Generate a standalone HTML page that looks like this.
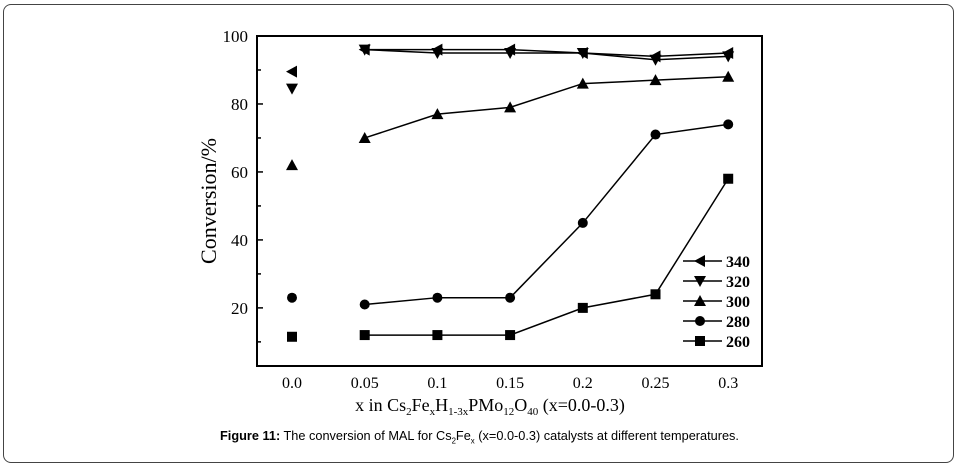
<!DOCTYPE html>
<html><head><meta charset="utf-8"><style>
html,body{margin:0;padding:0;background:#fff;width:959px;height:470px;overflow:hidden}
#frame{position:absolute;left:3px;top:4px;width:951px;height:459px;border:1.5px solid #444;border-radius:8px;box-sizing:border-box}
svg{position:absolute;left:0;top:0}
.cap{position:absolute;left:0;width:959px;top:428px;text-align:center;font-family:"Liberation Sans",sans-serif;font-size:13px;transform:scaleX(0.98)}
</style></head><body>
<div id="frame"></div>
<svg id="chart" width="959" height="470"></svg>
<div class="cap"><b>Figure 11:</b> The conversion of MAL for Cs<sub style="font-size:8px">2</sub>Fe<sub style="font-size:8px">x</sub> (x=0.0-0.3) catalysts at different temperatures.</div>
<script>
const categories = ["0.0","0.05","0.1","0.15","0.2","0.25","0.3"];
const s340 = [89.5,96,96,96,95,94,95];
const s320 = [84.5,96,95,95,95,93,94];
const s300 = [62,70,77,79,86,87,88];
const s280 = [23,21,23,23,45,71,74];
const s260 = [11.5,12,12,12,20,24,58];
const seriesNames = ["340","320","300","280","260"];
const yTicks = [20,40,60,80,100];
const yMinor = [10,30,50,70,90];

const NS="http://www.w3.org/2000/svg";
const svg=document.getElementById('chart');
const L=257,R=762,T=36,B=366;
const yMin=2.9,yMax=100;
function y(v){return B-(v-yMin)/(yMax-yMin)*(B-T);}
function x(i){return 292+i*72.7;}
function mk(tag,attrs,parent){const e=document.createElementNS(NS,tag);for(const k in attrs)e.setAttribute(k,attrs[k]);(parent||svg).appendChild(e);return e;}

const box=mk('rect',{x:L,y:T,width:R-L,height:B-T,fill:'none',stroke:'#000','stroke-width':2});



yTicks.forEach(v=>{
  const t=mk('line',{x1:L,x2:L+6,y1:y(v),y2:y(v),stroke:'#000','stroke-width':1.5});
  
  
  const lb=mk('text',{x:L-9,y:y(v)+6,'text-anchor':'end','font-family':'Liberation Serif, serif','font-size':17,fill:'#000'});
  lb.textContent=v;
  
  
});
yMinor.forEach(v=>{
  const t=mk('line',{x1:L,x2:L+4,y1:y(v),y2:y(v),stroke:'#000','stroke-width':1.5});
  
  
});
categories.forEach((c,i)=>{
  const lb=mk('text',{x:x(i),y:388,'text-anchor':'middle','font-family':'Liberation Serif, serif','font-size':16,fill:'#000'});
  lb.textContent=c;
  
  
});
const yt=mk('text',{x:0,y:0,transform:'translate(216,201) rotate(-90)','text-anchor':'middle','font-family':'Liberation Serif, serif','font-size':22,fill:'#000'});
yt.textContent='Conversion/%';


const xt=mk('text',{x:490,y:411,'text-anchor':'middle','font-family':'Liberation Serif, serif','font-size':18,fill:'#000'});
xt.innerHTML='x in Cs<tspan font-size="11" dy="4">2</tspan><tspan dy="-4">Fe</tspan><tspan font-size="11" dy="4">x</tspan><tspan dy="-4">H</tspan><tspan font-size="11" dy="4">1-3x</tspan><tspan dy="-4">PMo</tspan><tspan font-size="11" dy="4">12</tspan><tspan dy="-4">O</tspan><tspan font-size="11" dy="4">40</tspan><tspan dy="-4"> (x=0.0-0.3)</tspan>';



function marker(type,cx,cy){
  let e;
  if(type==='left') e=mk('polygon',{points:`${cx-6},${cy} ${cx+5},${cy-6} ${cx+5},${cy+6}`,fill:'#000'});
  else if(type==='down') e=mk('polygon',{points:`${cx-6},${cy-5} ${cx+6},${cy-5} ${cx},${cy+6}`,fill:'#000'});
  else if(type==='up') e=mk('polygon',{points:`${cx-6},${cy+5} ${cx+6},${cy+5} ${cx},${cy-6}`,fill:'#000'});
  else if(type==='circle') e=mk('circle',{cx:cx,cy:cy,r:5,fill:'#000'});
  else e=mk('rect',{x:cx-5,y:cy-5,width:10,height:10,fill:'#000'});
  return e;
}
const all=[s340,s320,s300,s280,s260];
const types=['left','down','up','circle','square'];
all.forEach((s,k)=>{
  const pts=s.slice(1).map((v,i)=>`${x(i+1)},${y(v)}`).join(' ');
  const pl=mk('polyline',{points:pts,fill:'none',stroke:'#000','stroke-width':1.5});
  
  
  s.forEach((v,i)=>{
    const m=marker(types[k],x(i),y(v));
    
    
  });
  const ly=261+k*20;
  const ll=mk('line',{x1:683,x2:722,y1:ly,y2:ly,stroke:'#000','stroke-width':1.5});
  
  
  const lm=marker(types[k],700,ly);
  
  
  const lt=mk('text',{x:726,y:ly+6,'font-family':'Liberation Serif, serif','font-size':16,'font-weight':'bold',fill:'#000'});
  lt.textContent=seriesNames[k];
  
  
});
</script>
</body></html>
